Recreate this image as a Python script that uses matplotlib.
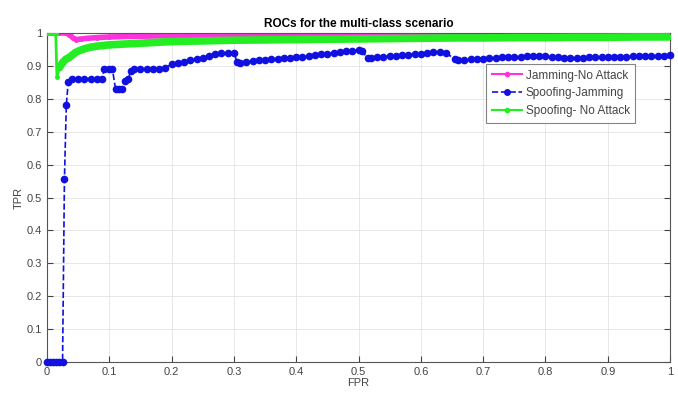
import matplotlib
matplotlib.use("Agg")
from matplotlib import pyplot as plt
from matplotlib.lines import Line2D

# Jamming - No Attack
jam_fpr = [0, 0.01, 0.02, 0.03, 0.036, 0.042, 0.047, 0.055, 0.065, 0.08, 0.1, 0.15,
           0.2, 0.3, 0.4, 0.5, 0.6, 0.7, 0.8, 0.9, 1.0]
jam_tpr = [1, 1, 1, 1, 0.995, 0.985, 0.98, 0.982, 0.984, 0.986, 0.988, 0.99,
           0.992, 0.995, 0.996, 0.997, 0.998, 0.998, 0.999, 0.999, 0.999]

# Spoofing - Jamming
spj_fpr = [0, 0.005, 0.01, 0.015, 0.02, 0.025, 0.028, 0.031, 0.034,
           0.04, 0.05, 0.06, 0.07, 0.08, 0.088, 0.092, 0.1, 0.105,
           0.11, 0.115, 0.12, 0.125, 0.13, 0.135, 0.14, 0.15, 0.16, 0.17, 0.18, 0.19,
           0.2, 0.21, 0.22, 0.23, 0.24, 0.25, 0.26, 0.27, 0.28, 0.29, 0.3,
           0.305, 0.31, 0.32, 0.33, 0.34, 0.35, 0.36, 0.37, 0.38, 0.39, 0.4,
           0.41, 0.42, 0.43, 0.44, 0.45, 0.46, 0.47, 0.48, 0.49, 0.5, 0.505,
           0.515, 0.52, 0.53, 0.54, 0.55, 0.56, 0.57, 0.58, 0.59, 0.6, 0.61, 0.62, 0.63, 0.64,
           0.655, 0.66, 0.67, 0.68, 0.69, 0.7, 0.71, 0.72, 0.73, 0.74, 0.75, 0.76, 0.77,
           0.78, 0.79, 0.8, 0.81, 0.82, 0.83, 0.84, 0.85, 0.86, 0.87, 0.88, 0.89, 0.9,
           0.91, 0.92, 0.93, 0.94, 0.95, 0.96, 0.97, 0.98, 0.99, 1.0]
spj_tpr = [0, 0, 0, 0, 0, 0, 0.555, 0.78, 0.85,
           0.86, 0.86, 0.86, 0.86, 0.86, 0.86, 0.89, 0.89, 0.89,
           0.83, 0.83, 0.83, 0.855, 0.86, 0.885, 0.89, 0.89, 0.89, 0.89, 0.892, 0.895,
           0.905, 0.908, 0.912, 0.918, 0.922, 0.925, 0.93, 0.935, 0.938, 0.94, 0.94,
           0.912, 0.91, 0.912, 0.915, 0.917, 0.918, 0.92, 0.922, 0.923, 0.925, 0.926,
           0.928, 0.93, 0.932, 0.935, 0.937, 0.94, 0.942, 0.944, 0.946, 0.948, 0.945,
           0.924, 0.925, 0.927, 0.928, 0.929, 0.93, 0.932, 0.934, 0.936, 0.937, 0.939, 0.941, 0.942, 0.94,
           0.92, 0.918, 0.919, 0.92, 0.921, 0.922, 0.923, 0.925, 0.926, 0.926, 0.927, 0.928, 0.929,
           0.93, 0.931, 0.93, 0.928, 0.926, 0.925, 0.925, 0.925, 0.925, 0.926, 0.926, 0.927, 0.927,
           0.927, 0.928, 0.928, 0.929, 0.929, 0.93, 0.93, 0.931, 0.931, 0.932]

# Spoofing - No Attack
spn_fpr = [0, 0.005, 0.01, 0.014, 0.016, 0.02, 0.025, 0.03, 0.035, 0.04, 0.045, 0.05,
           0.06, 0.07, 0.08, 0.09, 0.1, 0.12, 0.14, 0.16, 0.18, 0.2, 0.25, 0.3,
           0.35, 0.4, 0.45, 0.5, 0.55, 0.6, 0.65, 0.7, 0.75, 0.8, 0.85, 0.9, 0.95, 1.0]
spn_tpr = [1, 1, 1, 1, 0.866, 0.895, 0.91, 0.92, 0.925, 0.932, 0.94, 0.945,
           0.952, 0.957, 0.96, 0.962, 0.964, 0.966, 0.968, 0.97, 0.972, 0.974, 0.976, 0.978,
           0.979, 0.98, 0.981, 0.982, 0.983, 0.984, 0.985, 0.985, 0.986, 0.986, 0.987, 0.987, 0.988, 0.988]

labels = ["Jamming-No Attack", "Spoofing-Jamming", "Spoofing- No Attack"]
c_jam = "#ff33dd"
c_spj = "#1010e0"
c_spn = "#22ee22"

plt.rcParams["font.family"] = "Liberation Sans"
fig = plt.figure(figsize=(6.78, 4.0), dpi=100)
ax = fig.add_axes([0.0693, 0.095, 0.919, 0.8225])

ax.plot(spj_fpr, spj_tpr, color=c_spj, ls="--", lw=1.2, marker="o", ms=4.5, zorder=3,
        clip_on=False)
ax.plot(jam_fpr, jam_tpr, color=c_jam, lw=4, marker=".", ms=5, zorder=2)
# thin drop at the start, thick band after it
ax.plot(spn_fpr[:6], spn_tpr[:6], color=c_spn, lw=2, marker=".", ms=5, zorder=4)
ax.plot(spn_fpr[5:], spn_tpr[5:], color=c_spn, lw=5.5, marker=".", ms=6, zorder=4,
        solid_capstyle="round")

ax.set_xlim(0, 1)
ax.set_ylim(0, 1)
ax.set_xticks([i / 10 for i in range(11)])
ax.set_xticklabels(["0", "0.1", "0.2", "0.3", "0.4", "0.5", "0.6", "0.7", "0.8", "0.9", "1"])
ax.set_yticks([i / 10 for i in range(11)])
ax.set_yticklabels(["0", "0.1", "0.2", "0.3", "0.4", "0.5", "0.6", "0.7", "0.8", "0.9", "1"])
ax.tick_params(direction="in", length=4, width=0.8, labelsize=8, colors="#444444",
               top=True, right=True)
ax.grid(True, color="#e4e4e4", lw=0.6)
for s in ax.spines.values():
    s.set_color("#555555")
    s.set_linewidth(0.8)

ax.set_title("ROCs for the multi-class scenario", fontsize=8.5, fontweight="bold", pad=4)
ax.set_xlabel("FPR", fontsize=8, color="#444444", labelpad=1)
ax.set_ylabel("TPR", fontsize=8, color="#444444", labelpad=2)

handles = [
    Line2D([], [], color=c_jam, lw=1.5, marker=".", ms=6),
    Line2D([], [], color=c_spj, lw=1.2, ls="--", marker="o", ms=4),
    Line2D([], [], color=c_spn, lw=1.5, marker=".", ms=6),
]
leg = ax.legend(handles, labels, loc="upper right", bbox_to_anchor=(0.944, 0.905),
                fontsize=8.5, frameon=True, fancybox=False, handlelength=2.6,
                handletextpad=0.3, borderpad=0.45, labelspacing=0.5, borderaxespad=0)
leg.get_frame().set_edgecolor("#666666")
leg.get_frame().set_linewidth(0.8)
for t in leg.get_texts():
    t.set_color("#444444")

fig.savefig("out.png", dpi=100)
